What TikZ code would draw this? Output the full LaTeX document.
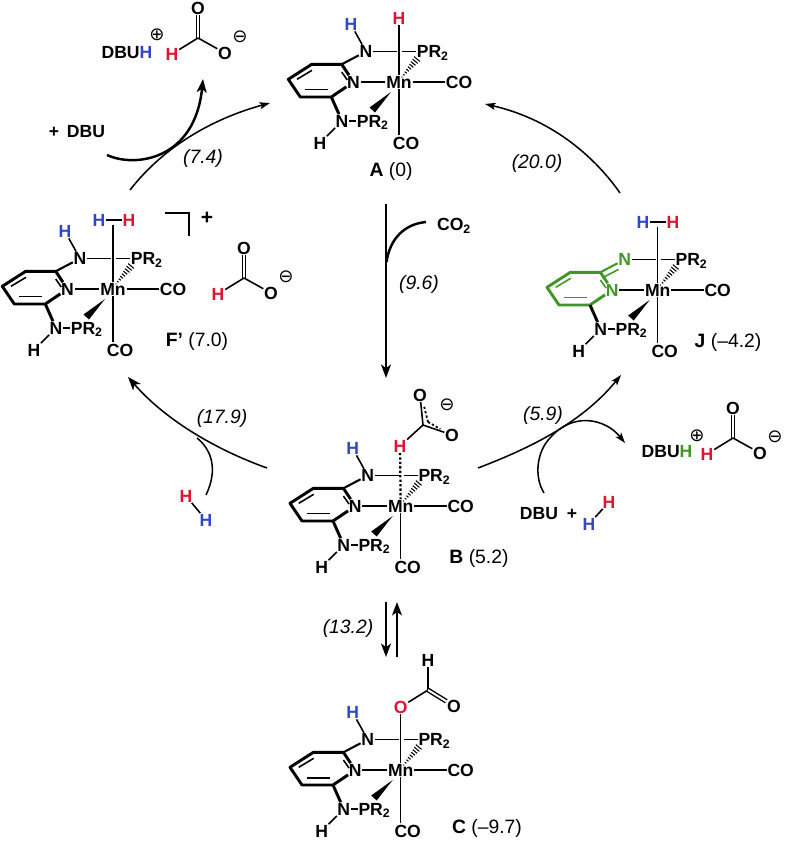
\documentclass[tikz,border=0pt]{standalone}
\usepackage{fontspec}
\setmainfont{Liberation Sans}
\newfontfamily\symfont{DejaVu Sans}
\usetikzlibrary{arrows.meta}

\definecolor{hblue}{RGB}{50,70,200}
\definecolor{hred}{RGB}{222,20,50}
\definecolor{ngreen}{RGB}{65,150,40}

\tikzset{
    atom/.style={inner sep=0.5pt, font=\fontsize{15}{16}\selectfont\bfseries},
    prtwo/.style={atom, anchor=west, text depth=0pt},
    charge/.style={inner sep=0pt, font=\fontsize{15.5}{16}\symfont},
    lbl/.style={inner sep=0pt, font=\fontsize{16.5}{18}\selectfont},
    rate/.style={inner sep=0pt, font=\fontsize{16.5}{18}\selectfont\itshape},
    bond/.style={line width=1.35pt},
    ringbond/.style={line width=2.5pt, line join=round},
    dblbond/.style={line width=1.2pt, double, double distance=1.7pt},
    dotbond/.style={line width=1.9pt, dash pattern=on 2pt off 1.8pt},
    arc/.style={line width=1.3pt},
    arcthick/.style={line width=2.1pt},
    tip/.style={-{Stealth[length=11.5pt, width=8.5pt, inset=3pt]}},
    tipsmall/.style={-{Stealth[length=9pt, width=6pt, inset=2pt]}}
}

\newcommand{\mncomplex}[3]{
    \begin{scope}[shift={(#2)}]
        \node[atom] (#1mn) at (0, 0) {Mn};
        \node[atom, text=#3] (#1npy) at (-45.5, 0) {N};
        \node[atom, text=#3] (#1nh) at (-33, -30.5) {N};
        \node[prtwo] (#1pu) at (17, -30.5) {PR\textsubscript{2}};
        \node[atom] (#1cor) at (60, 0) {CO};
        \node[atom] (#1cob) at (7, 61) {CO};
        \node[atom] (#1nl) at (-57, 39) {N};
        \node[prtwo] (#1pl) at (-43, 39) {PR\textsubscript{2}};
        \node[atom] (#1hl) at (-79, 61) {H};
        \coordinate (#1c1) at (-57.3, -17.7);
        \coordinate (#1c2) at (-87.3, -17.7);
        \coordinate (#1c3) at (-110.7, -2.7);
        \coordinate (#1c4) at (-98.7, 15);
        \coordinate (#1c5) at (-67.7, 15);
        \coordinate (#1gl) at (-2, -30.5);
        \coordinate (#1gr) at (3, -30.5);
        \coordinate (#1bot) at (0, 53);

        \draw[ringbond, #3] (#1npy) -- (#1c1) -- (#1c2) -- (#1c3) -- (#1c4) -- (#1c5) -- (#1npy);
        \draw[bond, #3] (-102, -2.7) -- (-87, -11.7);
        \draw[bond, #3] (-94, 7.7) -- (-70.7, 7.7);
        \draw[bond, #3] (-57.3, -10) -- (-51.7, -2);
        \draw[ringbond] (#1c5) -- (#1nl);
        \draw[bond] (#1nl) -- (#1pl);
        \draw[bond] (#1nl) -- (#1hl);
        \draw[bond] (#1npy) -- (#1mn);
        \draw[bond] (#1mn) -- (#1cor);
        \draw[bond] (#1mn) -- (#1bot);
        \draw[bond] (#1nh) -- (#1gl);
        \draw[bond] (#1gr) -- (#1pu.west);
        \fill (-8, 10) -- (-24, 30.5) -- (-29.5, 25.5) -- cycle;
        \foreach \t in {0, 0.125, ..., 1.01} {
            \draw[line width=0.9pt] ({3 + 15*\t - (0.5 + 3.2*\t)*0.77}, {-5 - 18*\t - (0.5 + 3.2*\t)*0.64})
                -- ({3 + 15*\t + (0.5 + 3.2*\t)*0.77}, {-5 - 18*\t + (0.5 + 3.2*\t)*0.64});
        }
    \end{scope}
}

\newcommand{\nhgroup}[1]{
    \node[atom, text=hblue] (#1hn) at ([shift={(-15, -27)}]#1nh) {H};
    \draw[ringbond, line width=1.8pt] (#1c1) -- (#1nh);
    \draw[bond] (#1nh) -- (#1hn);
}

\newcommand{\formate}[2]{
    \begin{scope}[shift={(#2)}]
        \coordinate (#1c) at (0, 0);
        \node[atom] (#1ot) at (0, -30) {O};
        \node[atom] (#1or) at (27, 15) {O};
        \node[atom, text=hred] (#1h) at (-26, 16) {H};
        \node[charge] (#1neg) at (42, -1) {⊖};
        \draw[dblbond] (#1c) -- (#1ot);
        \draw[bond] (#1c) -- (#1or);
        \draw[bond] (#1c) -- (#1h);
    \end{scope}
}

\begin{document}
\begin{tikzpicture}[x=0.03cm, y=-0.03cm]
    \useasboundingbox (0, 0) rectangle (784, 841);

    \mncomplex{A}{399, 82}{black}
    \nhgroup{A}
    \node[atom, text=hred] (Ah) at (399, 18) {H};
    \draw[bond] (Amn) -- (Ah);
    \node[lbl] (Alabel) at (391, 171) {\textbf{A} (0)};

    \mncomplex{F}{113, 289}{black}
    \nhgroup{F}
    \node[atom, text=hblue] (Fha) at (99, 220) {H};
    \node[atom, text=hred] (Fhb) at (129, 220) {H};
    \coordinate (Fhh) at (113, 225);
    \draw[bond] (Fha) -- (Fhb);
    \draw[bond] (Fmn) -- (Fhh);
    \coordinate (Fbr1) at (165, 213);
    \coordinate (Fbr2) at (189, 213);
    \coordinate (Fbr3) at (189, 236);
    \draw[bond] (Fbr1) -- (Fbr2) -- (Fbr3);
    \node[atom, font=\fontsize{18}{18}\selectfont\bfseries] (Fplus) at (207, 218) {+};
    \formate{Ff}{244, 278}
    \node[lbl] (Flabel) at (197, 341) {\textbf{F'} (7.0)};

    \mncomplex{J}{657.7, 290}{ngreen}
    \node[atom, text=hblue] (Jha) at (643, 222) {H};
    \node[atom, text=hred] (Jhb) at (673, 222) {H};
    \coordinate (Jhh) at (657.7, 227);
    \draw[bond] (Jha) -- (Jhb);
    \draw[bond] (Jmn) -- (Jhh);
    \draw[ringbond, line width=1.8pt, ngreen] (Jc1) -- (Jnh);
    \draw[bond, ngreen] ([shift={(3, 5)}]Jc1) -- ([shift={(1, 3)}]Jnh.south west);
    \node[lbl] (Jlabel) at (728, 342) {\textbf{J} (--4.2)};

    \mncomplex{B}{400.7, 506}{black}
    \nhgroup{B}
    \node[atom, text=hred] (Bh) at (400, 446) {H};
    \draw[dotbond] (Bh) -- (Bmn);
    \coordinate (Bc) at (423, 425);
    \node[atom] (Bot) at (420, 395) {O};
    \node[atom] (Bor) at (452, 435) {O};
    \node[charge] (Bneg) at (447, 405) {⊖};
    \draw[bond] (Bh) -- (Bc);
    \draw[bond] (Bc) -- (Bot);
    \draw[bond] (Bc) -- (Bor);
    \draw[dotbond, line width=1.5pt] ([shift={(5, -3)}]Bc) -- ([shift={(4, 4)}]Bot.south);
    \draw[dotbond, line width=1.5pt] ([shift={(5, -3)}]Bc) -- ([shift={(-4, -6)}]Bor.west);
    \node[lbl] (Blabel) at (479, 558) {\textbf{B} (5.2)};

    \mncomplex{C}{400.7, 770}{black}
    \nhgroup{C}
    \node[atom, text=hred] (Co) at (400.7, 707) {O};
    \coordinate (Cc) at (428, 690);
    \node[atom] (Ch) at (428, 660) {H};
    \node[atom] (Cor) at (454, 706) {O};
    \draw[bond] (Cmn) -- (Co);
    \draw[bond] (Co) -- (Cc);
    \draw[bond] (Cc) -- (Ch);
    \draw[dblbond] (Cc) -- (Cor);
    \node[lbl] (Clabel) at (487, 828) {\textbf{C} (--9.7)};

    \coordinate (AFa) at (130, 190);
    \coordinate (AFb) at (270, 103);
    \draw[arc, tipsmall] (AFa) .. controls (165, 145) and (215, 118) .. (AFb);
    \node[rate] (rateFA) at (203, 158) {(7.4)};

    \coordinate (DBa) at (107, 155);
    \coordinate (DBb) at (203, 79);
    \draw[arcthick, tip] (DBa) .. controls (135, 168) and (195, 160) .. (DBb);
    \node[atom] (dbuplus) at (54, 132) {+};
    \node[atom] (dbua) at (86, 132) {DBU};
    \node[atom] (dbuh) at (127, 53) {DBU\textcolor{hblue}{H}};
    \node[charge] (dbupos) at (157, 35) {⊕};
    \formate{Tf}{198, 38}

    \coordinate (JAa) at (620, 193);
    \coordinate (JAb) at (485, 104);
    \draw[arc, tipsmall] (JAa) .. controls (597, 160) and (555, 120) .. (JAb);
    \node[rate] (rateJA) at (537, 163) {(20.0)};

    \coordinate (ABa) at (386, 204);
    \coordinate (ABb) at (386, 378);
    \coordinate (ABc) at (386.5, 262);
    \coordinate (COa) at (426, 222);
    \draw[arc, tip] (ABa) -- (ABb);
    \draw[arcthick] (COa) .. controls (405, 224) and (390, 238) .. (ABc);
    \node[atom] (cotwo) at (454, 226) {CO\textsubscript{2}};
    \node[rate] (rateAB) at (419, 284) {(9.6)};

    \coordinate (BFa) at (267, 468);
    \coordinate (BFb) at (128, 377);
    \coordinate (BFc) at (197, 438);
    \coordinate (HHa) at (206, 495);
    \draw[arc, tip] (BFa) .. controls (225, 453) and (170, 425) .. (BFb);
    \draw[arc] (HHa) .. controls (218, 470) and (212, 450) .. (BFc);
    \node[rate] (rateBF) at (222, 418) {(17.9)};
    \node[atom, text=hred] (HHr) at (186, 496) {H};
    \node[atom, text=hblue] (HHb) at (206, 520) {H};
    \draw[bond] (HHr) -- (HHb);

    \coordinate (BJa) at (478, 468);
    \coordinate (BJb) at (621, 375);
    \coordinate (DCa) at (544, 493);
    \coordinate (DCb) at (550, 438);
    \coordinate (DCc) at (625, 443);
    \draw[arc, tipsmall] (BJa) .. controls (525, 450) and (580, 425) .. (BJb);
    \draw[arc] (DCa) .. controls (533, 475) and (538, 450) .. (DCb);
    \draw[arc, tipsmall] (DCb) .. controls (572, 412) and (605, 418) .. (DCc);
    \node[rate] (rateBJ) at (543, 415) {(5.9)};
    \node[atom] (dbub) at (539, 514) {DBU};
    \node[atom] (dbuplusb) at (572, 514) {+};
    \node[atom, text=hblue] (Hjb) at (589, 524) {H};
    \node[atom, text=hred] (Hjr) at (609, 502) {H};
    \draw[bond] (Hjb) -- (Hjr);
    \node[atom] (dbuhg) at (667, 452) {DBU\textcolor{ngreen}{H}};
    \node[charge] (dbuposg) at (697, 436) {⊕};
    \formate{Rf}{733, 438}

    \coordinate (BCa) at (386, 602);
    \coordinate (BCb) at (386, 657);
    \coordinate (CBa) at (397, 657);
    \coordinate (CBb) at (397, 602);
    \draw[arc, tip] (BCa) -- (BCb);
    \draw[arc, tip] (CBa) -- (CBb);
    \node[rate] (rateBC) at (348, 628) {(13.2)};
\end{tikzpicture}
\end{document}
